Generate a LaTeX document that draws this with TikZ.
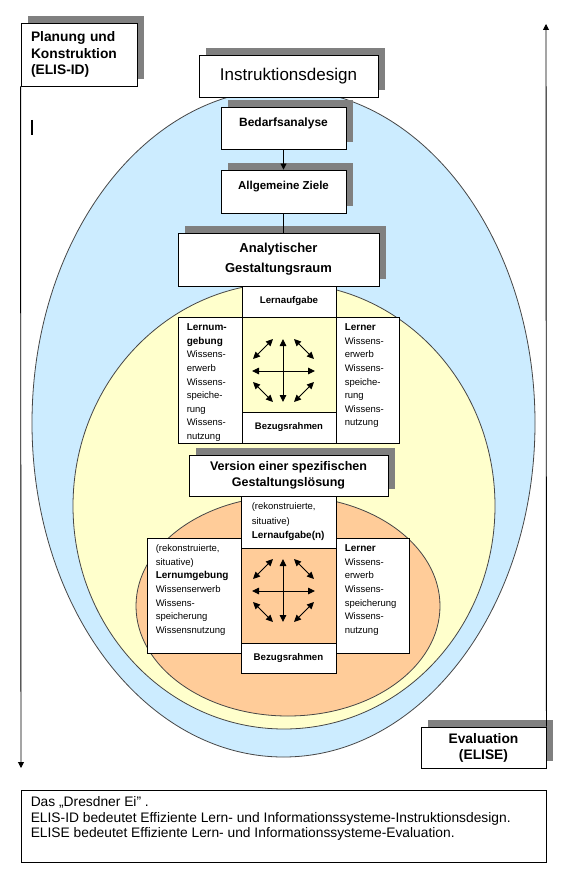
\documentclass[tikz,border=0pt]{standalone}
\usepackage{fontspec}
\setmainfont{Liberation Sans}
\usetikzlibrary{arrows.meta,shadows}
\definecolor{eggblue}{RGB}{204,236,255}
\definecolor{eggyellow}{RGB}{255,255,204}
\definecolor{eggorange}{RGB}{255,204,153}
\definecolor{shadowgray}{RGB}{128,128,128}
\definecolor{rimgray}{RGB}{70,70,70}
\newcommand\fsz[2]{\fontsize{#1}{#2}\selectfont}
\tikzset{
  box/.style={draw=black, fill=white, line width=0.9pt, inner sep=0pt},
  shadowed/.style={drop shadow={shadow xshift=6.5pt, shadow yshift=7pt, fill=shadowgray, opacity=1}},
  rim/.style={draw=rimgray, line width=0.8pt},
  link/.style={draw=black, line width=0.9pt},
  headtip/.style={-{Triangle[length=6pt,width=6pt]}},
  bothtip/.style={{Triangle[length=7pt,width=6.5pt]}-{Triangle[length=7pt,width=6.5pt]}},
  sidetext/.style={inner sep=0pt, anchor=north west, align=left, font=\fsz{9.5}{13.6}},
  pics/arrowstar/.style={code={
    \draw[link, bothtip] (0,-32) -- (0,31);
    \draw[link, bothtip] (-31,0) -- (32,0);
    \draw[link, bothtip] (-30,-12) -- (-10,-32);
    \draw[link, bothtip] (11,-32) -- (31,-12);
    \draw[link, bothtip] (-30,11) -- (-10,31);
    \draw[link, bothtip] (11,31) -- (31,11);
  }},
}
\begin{document}
\begin{tikzpicture}[x=1pt,y=-1pt]
\useasboundingbox (0,0) rectangle (567,882);
\fill[white] (0,0) rectangle (567,882);
% the three nested eggs
\draw[rim, fill=eggblue] (283.5,423) ellipse [x radius=251.5, y radius=334];
\draw[rim, fill=eggyellow] (284,506) ellipse [x radius=211, y radius=223];
\draw[rim, fill=eggorange] (288,606) ellipse [x radius=152, y radius=110];

% top boxes
\node[box, shadowed, minimum width=116pt, minimum height=63pt, text width=96pt, align=left, font=\bfseries\fsz{13.8}{16.5}] (plan) at (79,54.5) {Planung und\\Konstruktion\\(ELIS-ID)};
\node[box, shadowed, minimum width=179pt, minimum height=42pt, font=\fsz{17}{20}] (instr) at (288.5,76) {Instruktionsdesign};
\node[box, shadowed, minimum width=125pt, minimum height=42pt, text height=9pt, text depth=12.5pt, font=\bfseries\fsz{12}{14}] (bedarf) at (283.5,128) {Bedarfsanalyse};
\node[box, shadowed, minimum width=125pt, minimum height=43pt, text height=9pt, text depth=12.5pt, font=\bfseries\fsz{11.5}{14}] (ziele) at (283.5,191.5) {Allgemeine Ziele};
\node[box, shadowed, align=center, minimum width=201pt, minimum height=53pt, font=\bfseries\fsz{13}{20}] (analyt) at (278.5,259.5) {Analytischer\\Gestaltungsraum};

% analytical design space
\node[box, minimum width=94pt, minimum height=31pt, font=\bfseries\fsz{9.7}{12}] (task1) at (289,301.5) {Lernaufgabe};
\node[box, fill=eggyellow, minimum width=94pt, minimum height=95pt] (core1) at (289,364.5) {};
\node[box, minimum width=94pt, minimum height=31pt, font=\bfseries\fsz{9.5}{12}] (frame1) at (289,427.5) {Bezugsrahmen};
\node[box, minimum width=64pt, minimum height=126pt] (env1) at (210,380) {};
\node[sidetext, text width=52pt] (env1t) at ([shift={(9,7)}]env1.north west) {{\bfseries\fsz{10}{13.6}Lernum-}\\{\bfseries\fsz{10}{13.6}gebung}\\Wissens-\\erwerb\\Wissens-\\speiche-\\rung\\Wissens-\\nutzung};
\node[box, minimum width=63pt, minimum height=126pt] (lern1) at (367.5,380) {};
\node[sidetext, text width=52pt] (lern1t) at ([shift={(9,7)}]lern1.north west) {{\bfseries\fsz{10}{13.6}Lerner}\\Wissens-\\erwerb\\Wissens-\\speiche-\\rung\\Wissens-\\nutzung};
\coordinate (hub1) at (283,371);
\pic at (hub1) {arrowstar};

% specific design solution
\node[box, shadowed, align=center, minimum width=199pt, minimum height=41pt, font=\bfseries\fsz{12.5}{16}] (version) at (288.5,475.5) {Version einer spezifischen\\Gestaltungslösung};
\node[box, minimum width=95pt, minimum height=52pt] (task2) at (288.5,522) {};
\node[sidetext, font=\fsz{9.5}{14.5}] (task2t) at ([shift={(11,7)}]task2.north west) {(rekonstruierte,\\situative)\\{\bfseries\fsz{10}{14.5}Lernaufgabe(n)}};
\node[box, fill=eggorange, minimum width=95pt, minimum height=95pt] (core2) at (288.5,595.5) {};
\node[box, minimum width=95pt, minimum height=30pt, font=\bfseries\fsz{9.7}{12}] (frame2) at (288.5,658) {Bezugsrahmen};
\node[box, minimum width=94pt, minimum height=115pt] (env2) at (194,595.5) {};
\node[sidetext] (env2t) at ([shift={(9,7)}]env2.north west) {(rekonstruierte,\\situative)\\{\bfseries\fsz{10}{13.6}Lernumgebung}\\Wissenserwerb\\Wissens-\\speicherung\\Wissensnutzung};
\node[box, minimum width=73pt, minimum height=115pt] (lern2) at (372.5,595.5) {};
\node[sidetext] (lern2t) at ([shift={(9,7)}]lern2.north west) {{\bfseries\fsz{10}{13.6}Lerner}\\Wissens-\\erwerb\\Wissens-\\speicherung\\Wissens-\\nutzung};
\coordinate (hub2) at (283,591);
\pic at (hub2) {arrowstar};

% evaluation and caption
\node[box, shadowed, align=center, minimum width=125pt, minimum height=41pt, font=\bfseries\fsz{13.8}{16}] (eval) at (483.5,747.5) {Evaluation\\(ELISE)};
\node[box, minimum width=525pt, minimum height=72pt] (note) at (283.5,826) {};
\node[sidetext, font=\fsz{13.8}{15.5}] (notet) at ([shift={(10,7)}]note.north west) {Das „Dresdner Ei" .\\ELIS-ID bedeutet Effiziente Lern- und Informationssysteme-Instruktionsdesign.\\ELISE bedeutet Effiziente Lern- und Informationssysteme-Evaluation.};

% connectors
\coordinate (planend) at (21,768);
\draw[link, headtip] (plan.south west) -- (planend);
\coordinate (evalend) at (546,24);
\draw[link, headtip] (eval.north east) -- (evalend);
\draw[link, headtip] (bedarf.south) -- (ziele.north);
\draw[link] (ziele.south) -- (ziele.south |- analyt.north);
\draw[line width=1.3pt] (32,120) -- (32,135);
\end{tikzpicture}
\end{document}
